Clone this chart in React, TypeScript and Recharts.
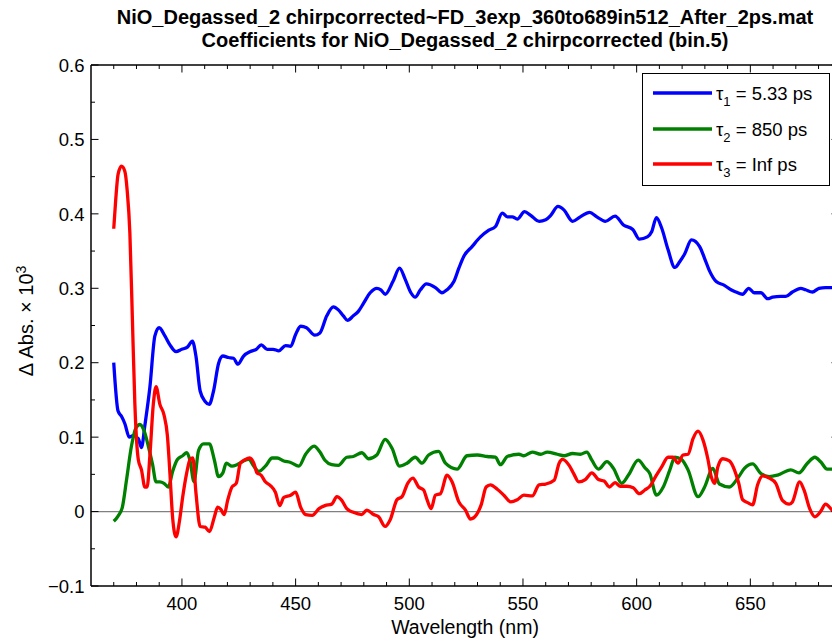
import React from 'react';
import { LineChart, Line, XAxis, YAxis, ReferenceLine } from 'recharts';

// ---- text ----
const titleLines = [
  'NiO_Degassed_2 chirpcorrected~FD_3exp_360to689in512_After_2ps.mat',
  'Coefficients for NiO_Degassed_2 chirpcorrected (bin.5)',
];
const xAxisTitle = 'Wavelength (nm)';
const yAxisTitle = '\u0394 Abs. \u00d7 10';
const yAxisTitleExp = '3';

// ---- axes ----
const xDomain: [number, number] = [360, 689];
const yDomain: [number, number] = [-0.1, 0.6];
const xTicks = [370, 380, 390, 400, 410, 420, 430, 440, 450, 460, 470, 480, 490, 500, 510, 520, 530, 540, 550, 560, 570, 580, 590, 600, 610, 620, 630, 640, 650, 660, 670, 680];
const xLabelTicks = [400, 450, 500, 550, 600, 650];
const yTicks = [-0.1, -0.05, 0, 0.05, 0.1, 0.15, 0.2, 0.25, 0.3, 0.35, 0.4, 0.45, 0.5, 0.55, 0.6];
const yLabelTicks = [-0.1, 0, 0.1, 0.2, 0.3, 0.4, 0.5, 0.6];

// ---- decay-associated spectra: [wavelength nm, ΔAbs ×10^3] ----
const tau1Spectrum: [number, number][] = [
  [370, 0.2], [371.9, 0.135], [373.4, 0.128], [374.9, 0.118], [376.8, 0.1], [378.5, 0.102], [380.8, 0.098], [382.2, 0.086],
  [383.7, 0.116], [385.9, 0.167], [388.1, 0.236], [390, 0.247], [392.5, 0.236], [394.7, 0.224], [397.4, 0.215], [399.9, 0.218],
  [402.4, 0.221], [404.6, 0.229], [406.2, 0.208], [408, 0.162], [410.2, 0.148], [412, 0.144], [413.9, 0.162], [416.1, 0.199],
  [418, 0.209], [420.5, 0.207], [422.7, 0.206], [424.6, 0.198], [427.1, 0.209], [430.1, 0.215], [432.7, 0.218], [434.9, 0.224],
  [437.5, 0.218], [440.1, 0.218], [442.6, 0.216], [445.6, 0.223], [447.8, 0.222], [450, 0.238], [452.2, 0.249], [454.8, 0.247],
  [458.4, 0.237], [460.7, 0.24], [463.7, 0.263], [466.6, 0.275], [468.8, 0.271], [471, 0.263], [472.8, 0.257], [475.4, 0.263],
  [477.6, 0.269], [479.9, 0.28], [482.8, 0.294], [485.7, 0.3], [487.5, 0.298], [489.4, 0.292], [492.8, 0.309], [495.7, 0.327],
  [498.2, 0.312], [500.7, 0.294], [502.6, 0.288], [504.9, 0.298], [507.5, 0.306], [511.5, 0.301], [514.4, 0.294], [516.6, 0.298],
  [519.6, 0.309], [521.8, 0.327], [524, 0.343], [527.6, 0.356], [531.3, 0.369], [535, 0.378], [537.9, 0.383], [540.9, 0.401],
  [543.1, 0.396], [545.3, 0.396], [547.5, 0.393], [550.7, 0.403], [553.4, 0.398], [557.1, 0.39], [560, 0.392], [562.2, 0.398],
  [565.4, 0.41], [568.1, 0.405], [571.8, 0.39], [575.2, 0.396], [579.3, 0.402], [582.5, 0.396], [586.2, 0.39], [590.5, 0.397],
  [594.2, 0.385], [598.3, 0.379], [601.2, 0.366], [604.7, 0.369], [606.6, 0.376], [608.7, 0.395], [611, 0.381], [613.8, 0.352],
  [616.8, 0.328], [619, 0.336], [621.1, 0.346], [624.1, 0.365], [627.7, 0.356], [629.9, 0.34], [632.1, 0.323], [635, 0.309],
  [638.6, 0.304], [641.5, 0.298], [643.7, 0.295], [646.6, 0.292], [649.3, 0.3], [651.7, 0.294], [654.7, 0.294], [657.6, 0.286],
  [659.8, 0.288], [663.4, 0.289], [665.6, 0.289], [668.5, 0.295], [672.2, 0.3], [674.3, 0.298], [677.3, 0.295], [680.2, 0.3],
  [683.1, 0.301], [686, 0.301], [689, 0.302],
];

const tau2Spectrum: [number, number][] = [
  [370, -0.013], [371.9, -0.006], [373.8, 0.006], [375.6, 0.042], [377.8, 0.088], [379.7, 0.112], [381.5, 0.117], [383.3, 0.109],
  [385.2, 0.088], [387.1, 0.063], [388.6, 0.04], [390.3, 0.04], [392.1, 0.038], [394, 0.033], [395.9, 0.054], [398, 0.07],
  [400.3, 0.075], [402.1, 0.079], [403.6, 0.068], [405.3, 0.04], [407.3, 0.082], [409.5, 0.091], [412.1, 0.091], [414.2, 0.07],
  [416.1, 0.047], [418, 0.052], [419.5, 0.065], [422, 0.061], [424.2, 0.063], [427.1, 0.068], [429.4, 0.07], [431.6, 0.061],
  [433.8, 0.054], [436.7, 0.061], [439.7, 0.072], [441.9, 0.072], [444.8, 0.068], [447.8, 0.066], [451.4, 0.061], [454.4, 0.077],
  [458.1, 0.088], [460.7, 0.08], [462.9, 0.069], [465.9, 0.063], [468.8, 0.062], [472.5, 0.073], [475.4, 0.074], [479.1, 0.079],
  [482.1, 0.071], [485.7, 0.076], [489.4, 0.097], [492.4, 0.085], [495.7, 0.061], [499, 0.065], [502.6, 0.073], [505.6, 0.065],
  [508.5, 0.076], [512.9, 0.081], [515.9, 0.065], [521, 0.057], [525.4, 0.075], [529.9, 0.076], [534.3, 0.074], [537.9, 0.073],
  [540.1, 0.063], [543.1, 0.074], [548.2, 0.077], [550.4, 0.075], [554.1, 0.08], [557.8, 0.077], [560.7, 0.08], [565.1, 0.077],
  [568.1, 0.075], [571.8, 0.078], [575.2, 0.077], [578.1, 0.08], [580.3, 0.069], [583.2, 0.057], [586.9, 0.067], [589.8, 0.058],
  [593.4, 0.038], [596.4, 0.049], [600.7, 0.069], [603.6, 0.059], [605.8, 0.051], [608.7, 0.022], [611.7, 0.033], [614.6, 0.056],
  [616.8, 0.073], [619.7, 0.07], [622.6, 0.056], [627, 0.02], [629.9, 0.033], [633.5, 0.058], [636.4, 0.037], [640.8, 0.033],
  [644.5, 0.045], [647.4, 0.058], [651, 0.064], [654.7, 0.051], [658.3, 0.047], [662, 0.049], [667.8, 0.056], [671.4, 0.052],
  [675.1, 0.065], [678.4, 0.073], [680.9, 0.067], [683.8, 0.057], [686, 0.057], [689, 0.057],
];

const tau3Spectrum: [number, number][] = [
  [370, 0.38], [370.9, 0.42], [371.9, 0.453], [373.4, 0.464], [374.9, 0.457], [375.9, 0.432], [377.1, 0.374], [378.2, 0.259],
  [379.3, 0.144], [380.8, 0.07], [382.2, 0.056], [383.7, 0.033], [384.7, 0.033], [385.9, 0.075], [387.4, 0.144], [388.6, 0.168],
  [390.3, 0.144], [392.1, 0.13], [393.6, 0.102], [394.7, 0.052], [395.9, -0.008], [397.4, -0.034], [398.9, -0.013], [400.3, 0.019],
  [402.1, 0.052], [403.6, 0.07], [404.8, 0.072], [406.2, 0.024], [408, -0.02], [410.2, -0.021], [412.1, -0.027], [414.2, -0.008],
  [415.7, 0.006], [417.1, 0.003], [418.6, -0.004], [420.1, 0.015], [422, 0.033], [423.9, 0.038], [425.7, 0.065], [427.9, 0.07],
  [429.8, 0.072], [431.6, 0.065], [433, 0.052], [434.8, 0.049], [436.7, 0.04], [438.9, 0.035], [441.1, 0.026], [443, 0.008],
  [444.8, 0.019], [447.8, 0.022], [450, 0.026], [452.2, 0.006], [454.4, -0.004], [457.3, -0.005], [460.3, 0.004], [462.9, 0.008],
  [465.9, 0.01], [468.1, 0.02], [470.3, 0.015], [472.5, 0.004], [475.4, -0.001], [479.1, -0.004], [481.3, 0.002], [484.3, -0.004],
  [486.5, -0.007], [489.4, -0.02], [491.6, -0.011], [494.6, 0.016], [496.8, 0.02], [499.3, 0.038], [501.6, 0.045], [504.1, 0.033],
  [506.3, 0.029], [507.8, 0.016], [509.6, 0.004], [511.5, 0.022], [513.7, 0.024], [516.6, 0.049], [518.8, 0.04], [521.8, 0.013],
  [524.7, 0.002], [526.9, -0.01], [529.6, -0.004], [531.6, 0.009], [533.8, 0.033], [535.7, 0.036], [538.7, 0.03], [541.6, 0.022],
  [544.6, 0.013], [547.5, 0.016], [550.4, 0.022], [554.1, 0.021], [557.1, 0.036], [560, 0.037], [563.7, 0.042], [565.9, 0.065],
  [567.4, 0.07], [570.3, 0.062], [572.3, 0.051], [574.5, 0.04], [577.4, 0.043], [580.3, 0.052], [583.2, 0.043], [585.7, 0.041],
  [588, 0.033], [590.5, 0.039], [592.7, 0.034], [595.6, 0.034], [598.5, 0.032], [601.2, 0.024], [603.6, 0.029], [605.8, 0.034],
  [608.7, 0.049], [611, 0.06], [613.8, 0.073], [616, 0.073], [618.2, 0.065], [620.4, 0.076], [622.6, 0.077], [624.8, 0.098],
  [627, 0.108], [629.2, 0.096], [631.3, 0.071], [632.8, 0.047], [634.3, 0.038], [635.7, 0.06], [637.9, 0.071], [640.8, 0.068],
  [643, 0.056], [644.9, 0.038], [646.6, 0.016], [648.8, 0.012], [651, 0.009], [653.2, 0.036], [655.4, 0.048], [658.3, 0.045],
  [661.2, 0.038], [664.1, 0.015], [667.1, 0.01], [668.5, 0.013], [671.7, 0.04], [673.6, 0.029], [676.1, 0.004], [678.4, -0.007],
  [680.9, 0], [683.1, 0.01], [686, 0.002], [689, -0.004],
];

const seriesSubscripts = ['1', '2', '3'];
const seriesLifetimes = ['5.33', '850', 'Inf'];
const seriesColors = ['#0000ff', '#008000', '#ff0000'];
const seriesSpectra = [tau1Spectrum, tau2Spectrum, tau3Spectrum];

const toRows = (pts: [number, number][]) => pts.map(([nm, v]) => ({ nm, v }));

// ---- layout ----
const FONT = '"Liberation Sans", Arial, Helvetica, sans-serif';
const PAGE_W = 832;
const PAGE_H = 641;
const CHART_W = 850;
const PLOT_TOP = 65;
const PLOT_LEFT = 91;
const PLOT_RIGHT = 839;
const PLOT_BOTTOM = 586;
const PLOT_W = PLOT_RIGHT - PLOT_LEFT;
const PLOT_H = PLOT_BOTTOM - PLOT_TOP;
const MAJOR_LEN = 7.5;
const MINOR_LEN = 4;
const TICK_FONT = 18.5;
const LINE_W = 3.3;

function XTick(props: any) {
  const { x, y, payload } = props;
  const v = payload.value;
  const major = xLabelTicks.includes(v);
  const len = major ? MAJOR_LEN : MINOR_LEN;
  const top = y - PLOT_H;
  return (
    <g>
      <line x1={x} y1={y} x2={x} y2={y - len} stroke="#000" strokeWidth={1} />
      <line x1={x} y1={top} x2={x} y2={top + len} stroke="#000" strokeWidth={1} />
      {major && (
        <text x={x} y={y + 23.5} textAnchor="middle" fontSize={TICK_FONT} fontFamily={FONT} fill="#000">
          {v}
        </text>
      )}
    </g>
  );
}

const fmtY = (v: number) => (v === 0 ? '0' : v < 0 ? '\u2212' + String(Math.abs(v)) : String(v));

function YTick(props: any) {
  const { x, y, payload } = props;
  const v = payload.value;
  const major = yLabelTicks.includes(v);
  const len = major ? MAJOR_LEN : MINOR_LEN;
  const right = x + PLOT_W;
  return (
    <g>
      <line x1={x} y1={y} x2={x + len} y2={y} stroke="#000" strokeWidth={1} />
      <line x1={right} y1={y} x2={right - len} y2={y} stroke="#000" strokeWidth={1} />
      {major && (
        <text x={x - 6.5} y={y} dy="0.36em" textAnchor="end" fontSize={TICK_FONT} fontFamily={FONT} fill="#000">
          {fmtY(v)}
        </text>
      )}
    </g>
  );
}

const XTitle = () => (
  <text x={(PLOT_LEFT + PLOT_RIGHT) / 2} y={634} textAnchor="middle" fontSize={19.5} fontFamily={FONT} fill="#000">
    {xAxisTitle}
  </text>
);

const YTitle = () => (
  <text
    transform={`translate(33, 321) rotate(-90)`}
    textAnchor="middle"
    fontSize={20}
    fontFamily={FONT}
    fill="#000"
  >
    {yAxisTitle}
    <tspan dy={-7} fontSize={14}>
      {yAxisTitleExp}
    </tspan>
  </text>
);

function LegendBox() {
  const rowY = [20, 56, 91];
  return (
    <svg
      width={188}
      height={113}
      style={{ position: 'absolute', left: 641.5, top: 72.5, overflow: 'visible' }}
    >
      <rect x={0.5} y={0.5} width={187} height={112} fill="#fff" stroke="#000" strokeWidth={1} />
      {seriesColors.map((c, i) => (
        <g key={i}>
          <line x1={11} y1={rowY[i]} x2={70} y2={rowY[i]} stroke={c} strokeWidth={LINE_W} />
          <text x={74} y={rowY[i]} dy="0.36em" fontSize={TICK_FONT} fontFamily={FONT} fill="#000">
            {'\u03c4'}
            <tspan dy={6} fontSize={13}>
              {seriesSubscripts[i]}
            </tspan>
            <tspan dy={-6}>{` = ${seriesLifetimes[i]} ps`}</tspan>
          </text>
        </g>
      ))}
    </svg>
  );
}

export default function App() {
  return (
    <div
      style={{
        position: 'absolute',
        left: 0,
        top: 0,
        width: PAGE_W,
        height: PAGE_H,
        overflow: 'hidden',
        background: '#fff',
      }}
    >
      <LineChart
        width={CHART_W}
        height={PAGE_H}
        margin={{ top: PLOT_TOP, right: CHART_W - PLOT_RIGHT, bottom: 0, left: 0 }}
      >
        <XAxis
          dataKey="nm"
          type="number"
          domain={xDomain}
          ticks={xTicks}
          interval={0}
          tickSize={0}
          tickMargin={0}
          tickLine={false}
          axisLine={{ stroke: '#000', strokeWidth: 1.5 }}
          height={PAGE_H - PLOT_BOTTOM}
          tick={(p: any) => <XTick {...p} />}
          label={<XTitle />}
        />
        <YAxis
          type="number"
          domain={yDomain}
          ticks={yTicks}
          interval={0}
          tickSize={0}
          tickMargin={0}
          tickLine={false}
          axisLine={{ stroke: '#000', strokeWidth: 1.5 }}
          width={PLOT_LEFT}
          tick={(p: any) => <YTick {...p} />}
          label={<YTitle />}
        />
        <ReferenceLine y={0} stroke="#808080" strokeWidth={1.2} />
        <ReferenceLine y={0.6} stroke="#000" strokeWidth={1.5} />
        <ReferenceLine x={689} stroke="#000" strokeWidth={1.5} />
        {seriesSpectra.map((pts, i) => (
          <Line
            key={i}
            data={toRows(pts)}
            dataKey="v"
            type="monotone"
            stroke={seriesColors[i]}
            strokeWidth={LINE_W}
            strokeLinejoin="round"
            dot={false}
            activeDot={false}
            isAnimationActive={false}
          />
        ))}
      </LineChart>
      <div
        style={{
          position: 'absolute',
          left: (PLOT_LEFT + PLOT_RIGHT) / 2 - 420,
          top: 6.2,
          width: 840,
          textAlign: 'center',
          fontFamily: FONT,
          fontWeight: 'bold',
          fontSize: 20,
          lineHeight: '23.3px',
          color: '#000',
          whiteSpace: 'nowrap',
        }}
      >
        {titleLines.map((t) => (
          <div key={t}>{t}</div>
        ))}
      </div>
      <LegendBox />
    </div>
  );
}
